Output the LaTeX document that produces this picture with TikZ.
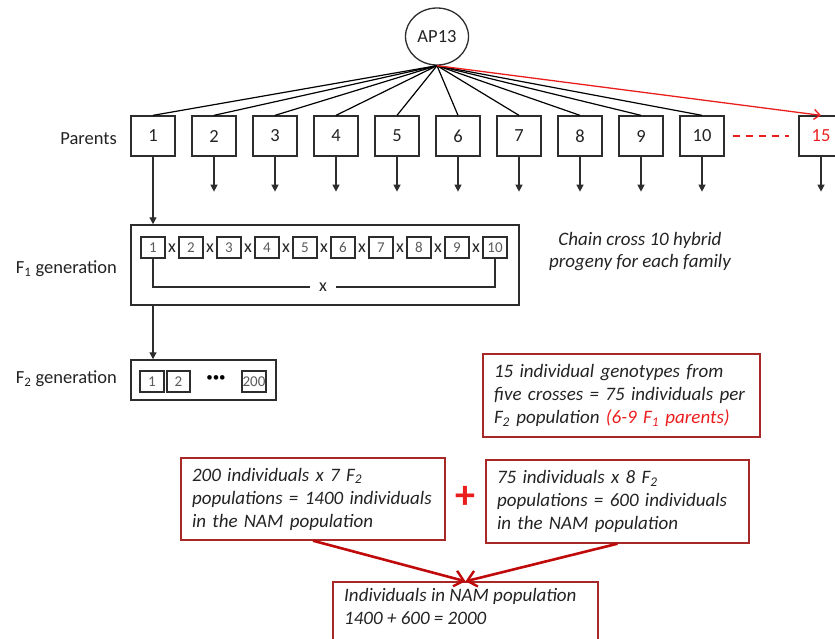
\documentclass[tikz,border=0pt]{standalone}
\usepackage{fontspec}
\setmainfont{Carlito}
\usetikzlibrary{arrows.meta,shapes.geometric}
\definecolor{boxgray}{RGB}{45,45,45}
\definecolor{txt}{RGB}{35,35,35}
\definecolor{smalltxt}{RGB}{90,90,90}
\definecolor{darkred}{RGB}{168,40,40}
\definecolor{arrred}{RGB}{192,10,10}
\definecolor{brightred}{RGB}{235,30,30}
\begin{document}
\begin{tikzpicture}[x=1pt,y=-1pt,
  lbl/.style={font=\fontsize{18.5}{22}\selectfont, text=txt, inner sep=0},
  parent/.style={draw=boxgray, line width=1.3pt, minimum width=44pt, minimum height=40pt, inner sep=0, font=\fontsize{18.5}{22}\selectfont, text=txt},
  smallbox/.style={draw=boxgray, line width=1.1pt, minimum width=24pt, minimum height=21pt, inner sep=0, font=\fontsize{15}{16}\selectfont, text=smalltxt},
  genbox/.style={draw=boxgray, line width=1.5pt, inner sep=0},
  xmark/.style={font=\fontsize{18}{18}\selectfont, text=txt, inner sep=0},
  fanline/.style={draw=black, line width=1.2pt},
  downarrow/.style={draw=boxgray, line width=1.3pt, -{Triangle[width=7pt,length=7pt]}},
  redbox/.style={draw=darkred, line width=1.4pt, inner xsep=11pt, inner ysep=0, align=left, font=\fontsize{19}{23}\selectfont\itshape, text=txt},
  redarrow/.style={draw=arrred, line width=2.6pt, -{Straight Barb[length=9pt,width=16pt,line width=2.4pt]}}
]
\useasboundingbox (0,0) rectangle (835,638);

% top node
\node[ellipse, draw=boxgray, line width=1.3pt, minimum width=63pt, minimum height=57pt, inner sep=0,
      font=\fontsize{18.5}{22}\selectfont, text=txt] (ap) at (437,36.5) {AP13};

% parents
\node[lbl, anchor=east] (parlbl) at (117,139) {Parents};
\foreach \i in {1,...,10}
  \node[parent] (p\i) at ({153+61*(\i-1)},136) {\i};
\node[parent, text=brightred] (p15) at (821,136) {15};

\foreach \i in {1,...,10}
  \draw[fanline] (ap.south) -- (p\i.north);
\draw[draw=brightred, line width=1.3pt, -{Straight Barb[length=6pt,width=10pt]}] (ap.south) -- (p15.north);

\draw[draw=brightred, line width=2pt, dash pattern=on 7pt off 6pt, shorten <=8pt, shorten >=9pt] (p10.east) -- (p15.west);

\foreach \i in {2,...,10}
  \draw[downarrow] (p\i.south) -- ++(0,35);
\draw[downarrow] (p15.south) -- ++(0,35);

% F1 generation
\node[lbl, anchor=east] (f1lbl) at (117,269) {F\textsubscript{1} generation};
\node[genbox, minimum width=388pt, minimum height=80pt] (fone) at (325,265) {};
\foreach \i in {1,...,10}
  \node[smallbox] (f\i) at ({153+38*(\i-1)},247.5) {\i};
\foreach \i in {1,...,9}
  \node[xmark] (fx\i) at ({172+38*(\i-1)},248.5) {x};
\node[xmark] (bx) at (323,287) {x};
\draw[draw=boxgray, line width=1.3pt] (f1.south) |- ([xshift=-9pt]bx.west);
\draw[draw=boxgray, line width=1.3pt] (f10.south) |- ([xshift=9pt]bx.east);

\draw[downarrow] (p1.south) -- (p1.south |- fone.north);

% F2 generation
\node[lbl, anchor=east] (f2lbl) at (117,379) {F\textsubscript{2} generation};
\node[genbox, minimum width=145pt, minimum height=40pt] (ftwo) at (203.5,380) {};
\node[smallbox] (g1) at (152,381.5) {1};
\node[smallbox, minimum width=23pt] (g2) at (178.5,381.5) {2};
\node[font=\fontsize{13}{14}\selectfont, text=black, inner sep=0] (gdots) at (216,379) {•••};
\node[smallbox, line width=1.5pt] (g200) at (254,381.5) {200};

\draw[downarrow] (fone.south -| f1.south) -- (ftwo.north -| f1.south);

% chain cross text
\node[align=center, font=\fontsize{19}{22}\selectfont\itshape, text=txt, inner sep=0] (chain) at (640,252)
  {Chain cross 10 hybrid\\progeny for each family};

% red boxes
\node[redbox, minimum width=277pt, minimum height=83pt, text width=255pt] (r1) at (621.5,395.5)
  {15 individual genotypes from\\five crosses = 75 individuals per\\F\textsubscript{2} population \textcolor{brightred}{(6-9 F\textsubscript{1} parents)}};

\node[redbox, minimum width=264pt, minimum height=82pt, text width=242pt] (ra) at (313,499)
  {200 individuals x 7 F\textsubscript{2}\\populations = 1400 individuals\\in the NAM population};
\node[redbox, minimum width=263pt, minimum height=83pt, text width=241pt] (rb) at (617.5,501.5)
  {75 individuals x 8 F\textsubscript{2}\\populations = 600 individuals\\in the NAM population};

\node[font=\fontsize{40}{40}\selectfont\bfseries, text=brightred, inner sep=0] (plus) at (465,497) {+};

\node[draw=darkred, line width=1.4pt, minimum width=265pt, minimum height=76pt, inner sep=0] (rc) at (465.5,620) {};
\node[anchor=north west, align=left, font=\fontsize{19}{23}\selectfont\itshape, text=txt, inner sep=0] (rctext) at (344,588)
  {Individuals in NAM population\\1400 + 600 = 2000};

\draw[redarrow] (ra.south) -- (rc.north);
\draw[redarrow] (rb.south) -- (rc.north);
\end{tikzpicture}
\end{document}
